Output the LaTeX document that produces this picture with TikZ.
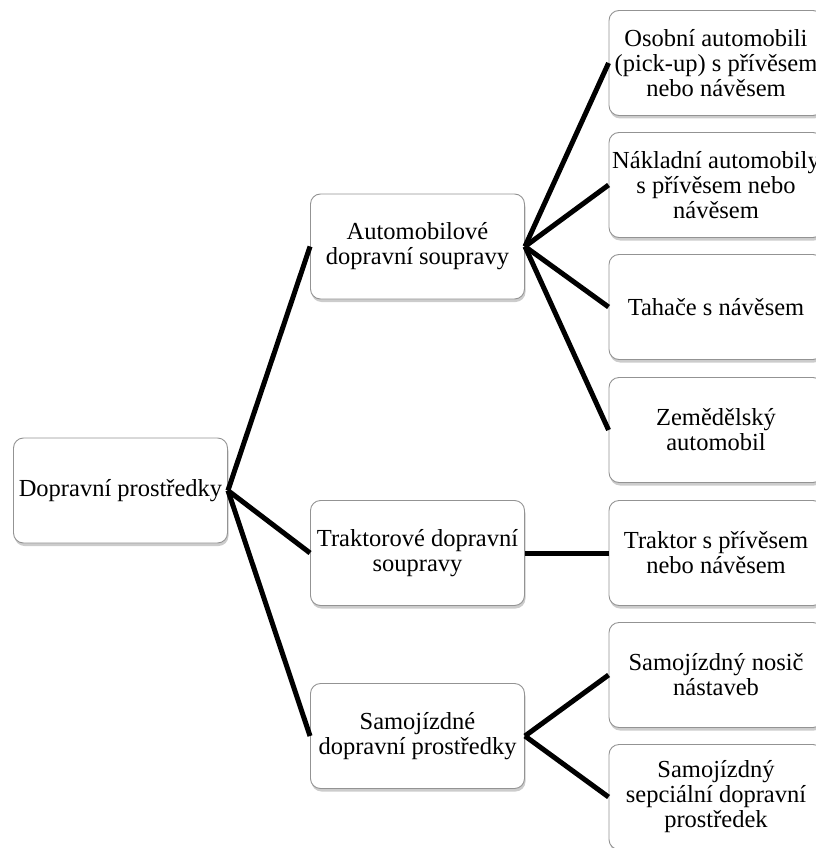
\documentclass[tikz,border=0pt]{standalone}
\usepackage{fontspec}
\setmainfont{Liberation Serif}
\usetikzlibrary{shadows}
\tikzset{
    box/.style={draw=gray!85,line width=0.9pt,fill=white,rounded corners=10pt,
        minimum width=214pt,minimum height=105pt,inner sep=0pt,align=center,
        font=\fontsize{24.5}{25}\selectfont,
        drop shadow={shadow xshift=1pt,shadow yshift=-3pt,opacity=0.4,fill=gray}},
    link/.style={line width=5pt,black}
}
\begin{document}
\begin{tikzpicture}[x=1pt,y=-1pt]
    \useasboundingbox (0,0) rectangle (815,848);
    %% root
    \node[box] (root) at (120.5,490.5) {Dopravní prostředky};
    %% second level
    \node[box] (auto) at (417.5,246.5) {Automobilové\\dopravní soupravy};
    \node[box] (trak) at (417.5,553) {Traktorové dopravní\\soupravy};
    \node[box] (samo) at (417.5,736) {Samojízdné\\dopravní prostředky};
    %% third level
    \foreach \n/\y/\t in {
        osob/63/{Osobní automobili\\(pick-up) s přívěsem\\nebo návěsem},
        nakl/185/{Nákladní automobily\\s přívěsem nebo\\návěsem},
        taha/307/{Tahače s návěsem},
        zeme/430/{Zemědělský\\automobil},
        trpr/553/{Traktor s přívěsem\\nebo návěsem},
        nosi/675/{Samojízdný nosič\\nástaveb},
        spec/797/{Samojízdný\\sepciální dopravní\\prostředek}}
        \node[box] (\n) at (716,\y) {\t};
    %% connectors
    \foreach \a/\b in {root/auto,root/trak,root/samo,auto/osob,auto/nakl,auto/taha,auto/zeme,trak/trpr,samo/nosi,samo/spec}
        \draw[link] (\a.east) -- (\b.west);
\end{tikzpicture}
\end{document}
